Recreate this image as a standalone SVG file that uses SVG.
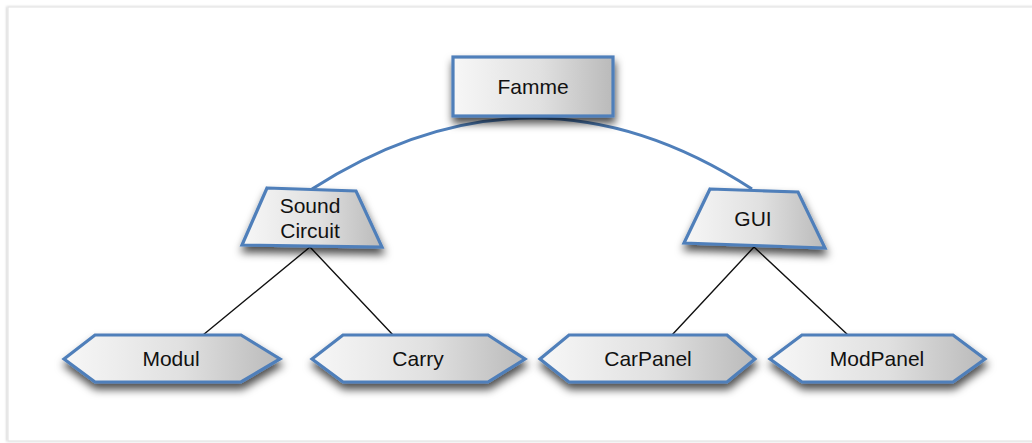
<svg xmlns="http://www.w3.org/2000/svg" width="1032" height="443" viewBox="0 0 1032 443">
  <defs>
    <linearGradient id="shade" x1="0" y1="0" x2="1" y2="0">
      <stop offset="0" stop-color="#f7f7f7"/>
      <stop offset="0.55" stop-color="#e0e0e0"/>
      <stop offset="1" stop-color="#bababa"/>
    </linearGradient>
    <filter id="drop" x="-20%" y="-30%" width="140%" height="180%">
      <feDropShadow dx="1" dy="6" stdDeviation="4" flood-color="#000" flood-opacity="0.7"/>
    </filter>
    <filter id="frameShadow" x="-5%" y="-5%" width="110%" height="110%">
      <feDropShadow dx="-1" dy="0" stdDeviation="1.2" flood-color="#000" flood-opacity="0.18"/>
    </filter>
    <style>
      .node { fill: url(#shade); stroke: #4f7fba; stroke-width: 3.2; stroke-linejoin: miter; filter: url(#drop); }
      .label { font-family: "Liberation Sans", Arial, sans-serif; font-size: 21px; fill: #111; text-anchor: middle; }
      .trunk { fill: none; stroke: #4f7fba; stroke-width: 3; }
      .branch { fill: none; stroke: #111; stroke-width: 1.4; }
    </style>
  </defs>

  <rect width="1032" height="443" fill="#ffffff"/>
  <!-- page frame -->
  <rect x="8" y="7" width="1040" height="434" fill="#ffffff" stroke="#e4e4e4" stroke-width="1.2" filter="url(#frameShadow)"/>

  <!-- connectors -->
  <g id="connectors">
    <path class="trunk" d="M312,189 Q533,47 752,189"/>
    <path class="branch" d="M310,247 L203,335 M310,247 L393,335"/>
    <path class="branch" d="M754,247 L672,335 M754,247 L848,335"/>
  </g>

  <g id="famme">
    <rect class="node" x="453" y="57" width="160" height="59"/>
    <text class="label" x="533" y="94">Famme</text>
  </g>

  <g id="sound-circuit">
    <polygon class="node" points="267,188 356,191 382,247 242,245"/>
    <text class="label" x="310" y="213">Sound</text>
    <text class="label" x="310" y="238">Circuit</text>
  </g>

  <g id="gui">
    <polygon class="node" points="710,189 798,192 825,248 684,243"/>
    <text class="label" x="753" y="226">GUI</text>
  </g>

  <g id="modul">
    <polygon class="node" points="64,359 95,335 241,335 280,359 241,382 95,382"/>
    <text class="label" x="171" y="366">Modul</text>
  </g>

  <g id="carry">
    <polygon class="node" points="312,359 343,335 488,335 525,359 488,382 343,382"/>
    <text class="label" x="418" y="366">Carry</text>
  </g>

  <g id="carpanel">
    <polygon class="node" points="540,359 569,335 727,335 755,359 727,382 569,382"/>
    <text class="label" x="648" y="366">CarPanel</text>
  </g>

  <g id="modpanel">
    <polygon class="node" points="770,359 802,335 953,335 985,359 953,382 802,382"/>
    <text class="label" x="877" y="366">ModPanel</text>
  </g>
</svg>
